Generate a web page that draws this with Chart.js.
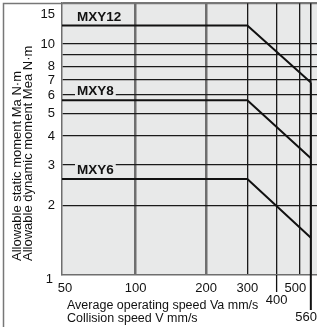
<!DOCTYPE html>
<html>
<head>
<meta charset="utf-8">
<script src="https://cdn.jsdelivr.net/npm/chart.js@4"></script>
<style>
  html, body { margin: 0; padding: 0; background: #fff; }
  canvas { display: block; }
</style>
</head>
<body>
<canvas id="momentChart" width="317" height="327"></canvas>
<script>
// Allowable moment vs. operating speed for MXY6 / MXY8 / MXY12

var speedTicks = [50, 100, 200, 300, 400, 500, 560];
var speedLabels = ['50', '100', '200', '300', '400', '500', '560'];
var lowSpeedTicks = [400, 560];
var momentTicks = [1, 2, 3, 4, 5, 6, 7, 8, 9, 10, 15];
var momentLabels = ['1', '2', '3', '4', '5', '6', '7', '8', '', '10', '15'];

var seriesNames = ['MXY12', 'MXY8', 'MXY6'];
var speedPoints = [48.5, 300, 560];
var mxy12 = [12, 12, 6.8];
var mxy8 = [5.7, 5.7, 3.2];
var mxy6 = [2.6, 2.6, 1.45];
var limitSpeed = [560, 560];
var limitMoment = [6.8, 1];

var yTitleLines = ['Allowable static moment Ma N\u00b7m', 'Allowable dynamic moment Mea N\u00b7m'];
var xTitleLines = ['Average operating speed Va mm/s', 'Collision speed V mm/s'];

var PLOT_BG = '#e8e9e9';
var FONT = '"Liberation Sans", Arial, Helvetica, sans-serif';

function toPoints(xs, ys) {
  var pts = [];
  for (var i = 0; i < xs.length; i++) pts.push({ x: xs[i], y: ys[i] });
  return pts;
}

function xGridColor(ctx) {
  var v = ctx.tick && ctx.tick.value;
  if (v === 50) return 'rgba(0,0,0,0)';
  if (v === 100 || v === 200) return '#6e6e6e';
  return '#1a1a1a';
}

function xGridWidth(ctx) {
  var v = ctx.tick && ctx.tick.value;
  if (v === 100 || v === 200) return 2.5;
  if (v === 560) return 1.5;
  return 1.3;
}

function yGridColor(ctx) {
  var v = ctx.tick && ctx.tick.value;
  if (v === 1) return 'rgba(0,0,0,0)';
  if (v === 15) return '#777';
  return '#1a1a1a';
}

var chartDecor = {
  id: 'chartDecor',
  beforeDraw: function (chart) {
    var c = chart.ctx, a = chart.chartArea;
    c.save();
    c.fillStyle = PLOT_BG;
    c.fillRect(a.left, a.top, a.right - a.left, a.bottom - a.top);
    // outer frame of the figure
    c.strokeStyle = '#777';
    c.lineWidth = 1.5;
    c.beginPath();
    c.moveTo(3.5, chart.height);
    c.lineTo(3.5, 3.5);
    c.lineTo(chart.width, 3.5);
    c.stroke();
    c.restore();
  },
  afterDraw: function (chart) {
    var c = chart.ctx, a = chart.chartArea;
    var xs = chart.scales.x, ys = chart.scales.y;
    c.save();
    c.fillStyle = '#111';
    c.strokeStyle = '#111';

    // y tick labels
    c.font = '13px ' + FONT;
    c.textAlign = 'right';
    c.textBaseline = 'middle';
    for (var i = 0; i < momentTicks.length; i++) {
      var v = momentTicks[i];
      var py = ys.getPixelForValue(v) + 0.5;
      var px = a.left - 7;
      if (v === momentTicks[momentTicks.length - 1]) py += 11;
      if (v === momentTicks[0]) { py += 4; px -= 2; }
      c.fillText(momentLabels[i], px, py);
    }

    // long tick marks below the axis
    for (var j = 0; j < lowSpeedTicks.length; j++) {
      var tx = xs.getPixelForValue(lowSpeedTicks[j]);
      var last = j === lowSpeedTicks.length - 1;
      c.lineWidth = last ? 2 : 1.3;
      c.beginPath();
      c.moveTo(tx, a.bottom);
      c.lineTo(tx, a.bottom + (last ? 35 : 17));
      c.stroke();
    }

    // x tick labels
    c.textAlign = 'center';
    for (var k = 0; k < speedTicks.length; k++) {
      var s = speedTicks[k];
      var lx = xs.getPixelForValue(s);
      var ly = a.bottom + 13;
      if (s === 400) ly = a.bottom + 25.5;
      if (s === 560) ly = a.bottom + 42;
      if (s === 500) lx -= 4;
      var w = c.measureText(speedLabels[k]).width;
      if (lx + w / 2 > chart.width) lx = chart.width - w / 2;
      c.fillText(speedLabels[k], lx, ly);
    }

    // series names with a patch of background behind them
    var seriesStart = [mxy12[0], mxy8[0], mxy6[0]];
    c.font = 'bold 13.5px ' + FONT;
    c.textAlign = 'left';
    for (var m = 0; m < seriesNames.length; m++) {
      var nx = a.left + 15;
      var ny = ys.getPixelForValue(seriesStart[m]) - 9;
      var nw = c.measureText(seriesNames[m]).width;
      c.fillStyle = PLOT_BG;
      c.fillRect(nx - 2, ny - 6, nw + 4, 12);
      c.fillStyle = '#111';
      c.fillText(seriesNames[m], nx, ny + 0.5);
    }

    // y axis title (two rotated lines)
    c.font = '13px ' + FONT;
    c.textBaseline = 'alphabetic';
    var titleX = [21, 32];
    for (var n = 0; n < yTitleLines.length; n++) {
      c.save();
      c.translate(titleX[n], a.bottom - 14);
      c.rotate(-Math.PI / 2);
      c.fillText(yTitleLines[n], 0, 0);
      c.restore();
    }

    // x axis title
    c.font = '12.5px ' + FONT;
    c.fillText(xTitleLines[0], a.left + 5, a.bottom + 34);
    c.fillText(xTitleLines[1], a.left + 5, a.bottom + 47);
    c.restore();
  }
};

function buildDataset(name, xs, ys) {
  return {
    label: name,
    data: toPoints(xs, ys),
    borderColor: '#111',
    borderWidth: 2,
    pointRadius: 0,
    tension: 0,
    fill: false
  };
}

var config = {
  type: 'line',
  data: {
    datasets: [
      buildDataset(seriesNames[0], speedPoints, mxy12),
      buildDataset(seriesNames[1], speedPoints, mxy8),
      buildDataset(seriesNames[2], speedPoints, mxy6),
      buildDataset('limit', limitSpeed, limitMoment)
    ]
  },
  options: {
    responsive: false,
    animation: false,
    layout: { padding: { top: 3, left: 0, right: 0, bottom: 0 } },
    plugins: {
      legend: { display: false },
      tooltip: { enabled: false }
    },
    scales: {
      x: {
        type: 'logarithmic',
        min: 48.5,
        max: 595,
        afterBuildTicks: function (scale) {
          scale.ticks = speedTicks.map(function (v) { return { value: v }; });
        },
        afterFit: function (scale) { scale.height = 52; },
        ticks: { display: false },
        grid: { color: xGridColor, lineWidth: xGridWidth, drawTicks: false },
        border: { color: '#6e6e6e', width: 1.5 }
      },
      y: {
        type: 'logarithmic',
        min: 1,
        max: 15,
        afterBuildTicks: function (scale) {
          scale.ticks = momentTicks.map(function (v) { return { value: v }; });
        },
        afterFit: function (scale) { scale.width = 62; },
        ticks: { display: false },
        grid: { color: yGridColor, lineWidth: 1.2, drawTicks: false },
        border: { color: '#6e6e6e', width: 1.5 }
      }
    }
  },
  plugins: [chartDecor]
};

new Chart(document.getElementById('momentChart').getContext('2d'), config);
</script>
</body>
</html>
